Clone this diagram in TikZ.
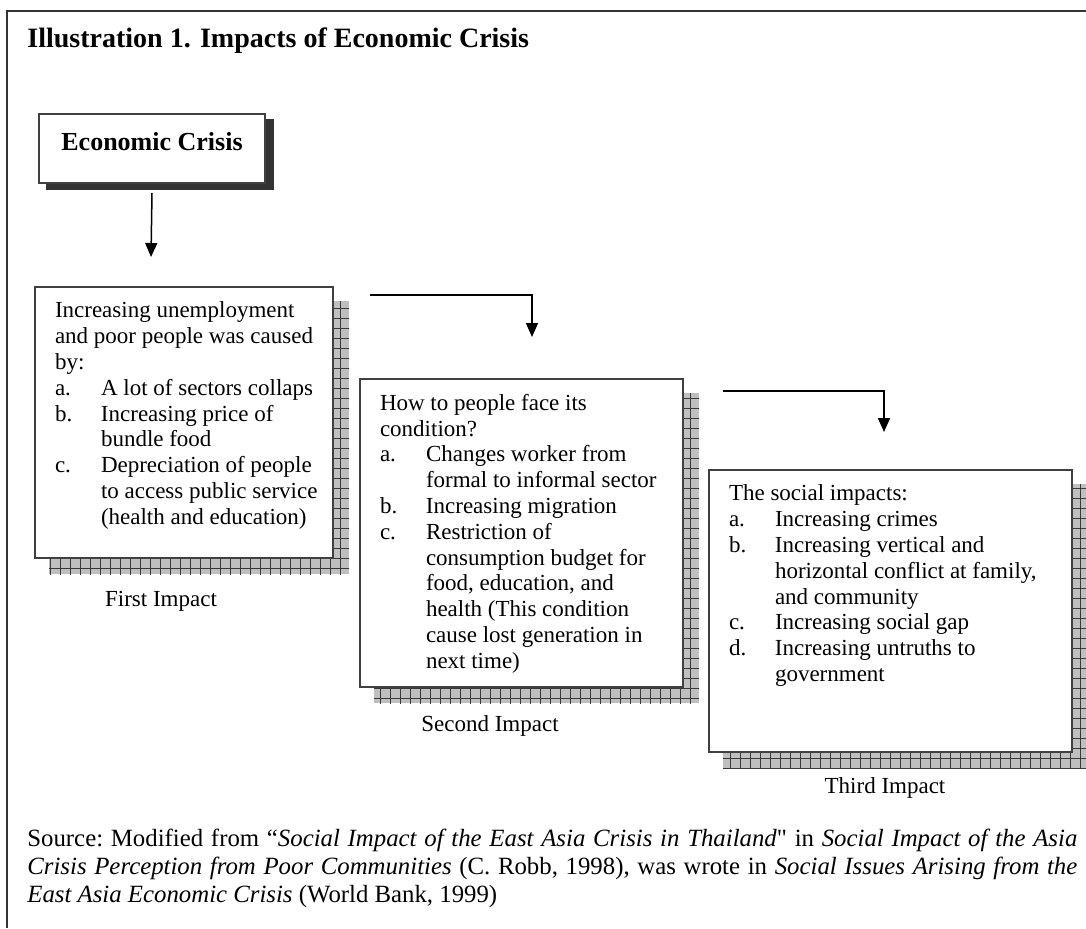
\documentclass[tikz,border=0pt]{standalone}
\usepackage{fontspec}
\setmainfont{Liberation Serif}
\usetikzlibrary{arrows.meta,patterns.meta,backgrounds}

% list line with hanging label
\newcommand{\lstitem}[2]{\par\hangindent=23pt\hangafter=1\noindent\makebox[23pt][l]{#1}#2}
% top aligned text block of a box
\newcommand{\impactbody}[3]{\parbox[c][#2][t]{#1}{\raggedright\leftskip=10pt #3}}
% straight double quote
\newcommand{\straightquote}{{\addfontfeatures{Ligatures=TeXOff}"}}

\begin{document}
\begin{tikzpicture}[x=0.5pt, y=-0.5pt,
    impact/.style={draw=black!75, line width=1pt, fill=white, inner xsep=0pt, inner ysep=7.5pt,
        anchor=north west, font=\fontsize{11.5}{12.9}\selectfont},
    crisisbox/.style={draw=black!75, line width=1pt, fill=white, inner xsep=0pt, inner ysep=9pt,
        anchor=north west, font=\fontsize{13}{15}\selectfont\bfseries},
    gridshade/.style={fill=gray!50,
        postaction={pattern={Lines[angle=0,distance=5pt,line width=0.4pt]}, pattern color=gray!45!black},
        postaction={pattern={Lines[angle=90,distance=5pt,line width=0.4pt]}, pattern color=gray!45!black}},
    darkshade/.style={fill=black!80},
    flow/.style={-{Triangle[length=7pt,width=6pt]}, line width=0.75pt},
    caption/.style={font=\fontsize{11.5}{13}\selectfont}]
    \useasboundingbox (0,0) rectangle (1086,928);

    % frame
    \draw[line width=1pt, black!80] (1086,11) -- (7,11) -- (7,928);

    % title
    \node[anchor=base west, inner sep=0pt, font=\fontsize{14}{17}\selectfont\bfseries] (title) at (27,47)
        {Illustration 1. Impacts of Economic Crisis};

    % boxes
    \node[crisisbox] (crisis) at (38,113) {\parbox[c][16.5pt][t]{113pt}{\centering Economic Crisis}};

    \node[impact] (first) at (34,286) {\impactbody{149pt}{120.5pt}{%
        Increasing unemployment\newline and poor people was caused\newline by:
        \lstitem{a.}{A lot of sectors collaps}
        \lstitem{b.}{Increasing price of\newline bundle food}
        \lstitem{c.}{Depreciation of people\newline to access public service\newline (health and education)}}};

    \node[impact] (second) at (359,378) {\impactbody{161.5pt}{139pt}{%
        How to people face its\newline condition?
        \lstitem{a.}{Changes worker from\newline formal to informal sector}
        \lstitem{b.}{Increasing migration}
        \lstitem{c.}{Restriction of\newline consumption budget for\newline food, education, and\newline health (This condition\newline cause lost generation in\newline next time)}}};

    \node[impact] (third) at (708,469) {\impactbody{181.5pt}{126pt}{%
        The social impacts:
        \lstitem{a.}{Increasing crimes}
        \lstitem{b.}{Increasing vertical and\newline horizontal conflict at family,\newline and community}
        \lstitem{c.}{Increasing social gap}
        \lstitem{d.}{Increasing untruths to\newline government}}};

    % shadows
    \begin{scope}[on background layer]
        \fill[darkshade] ([shift={(4pt,-3pt)}]crisis.south west) rectangle ([shift={(4pt,-3pt)}]crisis.north east);
        \foreach \b in {first,second,third}
            \fill[gridshade] ([shift={(7.5pt,-7.5pt)}]\b.south west) rectangle ([shift={(7.5pt,-7.5pt)}]\b.north east);
    \end{scope}

    % arrows
    \coordinate (tip0) at (151,257);
    \draw[flow] ([yshift=-4.5pt]crisis.south) -- (tip0);
    \coordinate (start1) at (370,295);
    \coordinate (tip1) at (532,337);
    \draw[flow] (start1) -| (tip1);
    \coordinate (start2) at (723,391);
    \coordinate (tip2) at (884,432);
    \draw[flow] (start2) -| (tip2);

    % captions
    \node[caption] (firstlbl) at (161,601) {First Impact};
    \node[caption] (secondlbl) at (490,726) {Second Impact};
    \node[caption] (thirdlbl) at (885,788) {Third Impact};

    % source
    \node[anchor=north west, inner sep=0pt, text width=525pt, align=justify,
        font=\fontsize{12.4}{14}\selectfont\frenchspacing] (source) at (27,829)
        {Source: Modified from “\textit{Social Impact of the East Asia Crisis in Thailand}\straightquote{} in \textit{Social Impact of the Asia}\linebreak
        \textit{Crisis Perception from Poor Communities} (C. Robb, 1998), was wrote in \textit{Social Issues Arising from the}\linebreak
        \textit{East Asia Economic Crisis} (World Bank, 1999)};
\end{tikzpicture}
\end{document}
